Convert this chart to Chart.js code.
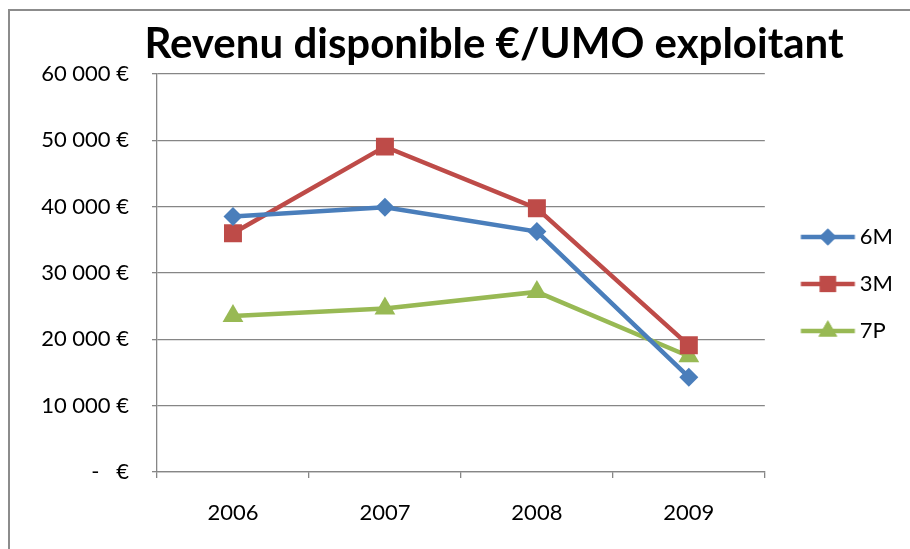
<!DOCTYPE html>
<html>
<head>
<meta charset="utf-8">
<script src="https://cdn.jsdelivr.net/npm/chart.js@4.4.1/dist/chart.umd.min.js"></script>
<style>
  html, body { margin: 0; padding: 0; background: #fff; }
  #wrap { position: relative; width: 910px; height: 549px; }
  #frame {
    position: absolute; left: 8px; top: 9px; right: -2px; bottom: -2px;
    border-top: 2px solid #8c8c8c; border-left: 2px solid #8c8c8c;
    pointer-events: none;
  }
  canvas { position: absolute; left: 0; top: 0; }
</style>
</head>
<body>
<div id="wrap">
  <canvas id="chart" width="910" height="549"></canvas>
  <div id="frame"></div>
</div>
<script>
const chartTitle = "Revenu disponible €/UMO exploitant";
const years = ["2006", "2007", "2008", "2009"];
const serie6M = [38500, 39900, 36250, 14300];
const serie3M = [36000, 49050, 39750, 19100];
const serie7P = [23500, 24650, 27150, 17450];
const yTicks = [0, 10000, 20000, 30000, 40000, 50000, 60000];

const GRAY = "#868686";
const FONT = "Lato, 'Open Sans', sans-serif";

const series = [
    { label: "6M", data: serie6M, color: "#4A7EBB", style: "rectRot", radius: 9.5 },
    { label: "3M", data: serie3M, color: "#BE4B48", style: "rect", radius: 12.7 },
    { label: "7P", data: serie7P, color: "#98B954", style: "triangle", radius: 12 }
];

// legend icon: short line with the marker in the middle
function legendIcon(s) {
    const c = document.createElement("canvas");
    c.width = 80; c.height = 30;
    const ctx = c.getContext("2d");
    ctx.strokeStyle = s.color;
    ctx.lineWidth = 4.5;
    ctx.beginPath();
    ctx.moveTo(21.5, 15);
    ctx.lineTo(75.5, 15);
    ctx.stroke();
    ctx.fillStyle = s.color;
    Chart.helpers.drawPoint(ctx, { pointStyle: s.style, radius: s.radius * 0.9, borderWidth: 0 }, 48.5, 15);
    ctx.fill();
    return c;
}

function euro(v) {
    if (v === 0) return "-   €";
    return String(v).replace(/\B(?=(\d{3})+(?!\d))/g, " ") + " €";
}

// title sits a bit right of the canvas centre, like the Excel original
const offsetTitle = {
    id: "offsetTitle",
    afterDraw(chart) {
        const ctx = chart.ctx;
        ctx.save();
        ctx.font = "bold 42px " + FONT;
        ctx.fillStyle = "#000";
        ctx.textAlign = "center";
        ctx.textBaseline = "alphabetic";
        ctx.fillText(chartTitle, (chart.width + 78) / 2, 58);
        ctx.restore();
    }
};

document.addEventListener("DOMContentLoaded", function () {
    const icons = series.map(legendIcon);

    new Chart(document.getElementById("chart"), {
        type: "line",
        data: {
            labels: years,
            datasets: series.map(s => ({
                label: s.label,
                data: s.data,
                borderColor: s.color,
                backgroundColor: s.color,
                borderWidth: 4.5,
                tension: 0,
                pointStyle: s.style,
                pointRadius: s.radius,
                pointHoverRadius: s.radius,
                pointBorderWidth: 0,
                pointBackgroundColor: s.color
            }))
        },
        plugins: [offsetTitle],
        options: {
            responsive: false,
            animation: false,
            layout: { padding: { left: 30, right: 7, top: 74, bottom: 0 } },
            plugins: {
                tooltip: { enabled: false },
                title: { display: false },
                legend: {
                    position: "right",
                    fullSize: false,
                    title: {
                        display: true,
                        text: " ",
                        font: { family: FONT, size: 10, lineHeight: 1.2 },
                        padding: { top: 5, bottom: 5 }
                    },
                    labels: {
                        usePointStyle: true,
                        pointStyleWidth: 59,
                        padding: 25,
                        color: "#000",
                        font: { family: FONT, size: 22 },
                        generateLabels(chart) {
                            const items = Chart.defaults.plugins.legend.labels.generateLabels(chart);
                            items.forEach((it, i) => { it.pointStyle = icons[i]; });
                            return items;
                        }
                    }
                }
            },
            scales: {
                x: {
                    offset: true,
                    afterFit(scale) { scale.height = 77; },
                    ticks: {
                        color: "#000",
                        font: { family: FONT, size: 22 },
                        padding: 22,
                        maxRotation: 0
                    },
                    grid: {
                        offset: true,
                        drawOnChartArea: false,
                        tickLength: 6,
                        color: GRAY,
                        lineWidth: 1.3
                    },
                    border: { color: GRAY, width: 1.3 }
                },
                y: {
                    min: 0,
                    max: 60000,
                    afterFit(scale) { scale.width = 127; },
                    afterBuildTicks(scale) { scale.ticks = yTicks.map(v => ({ value: v })); },
                    ticks: {
                        color: "#000",
                        font: { family: FONT, size: 22 },
                        padding: 23,
                        callback: v => euro(v)
                    },
                    grid: {
                        color: GRAY,
                        lineWidth: 1.3,
                        tickLength: 5
                    },
                    border: { color: GRAY, width: 1.3 }
                }
            }
        }
    });
});
</script>
</body>
</html>
